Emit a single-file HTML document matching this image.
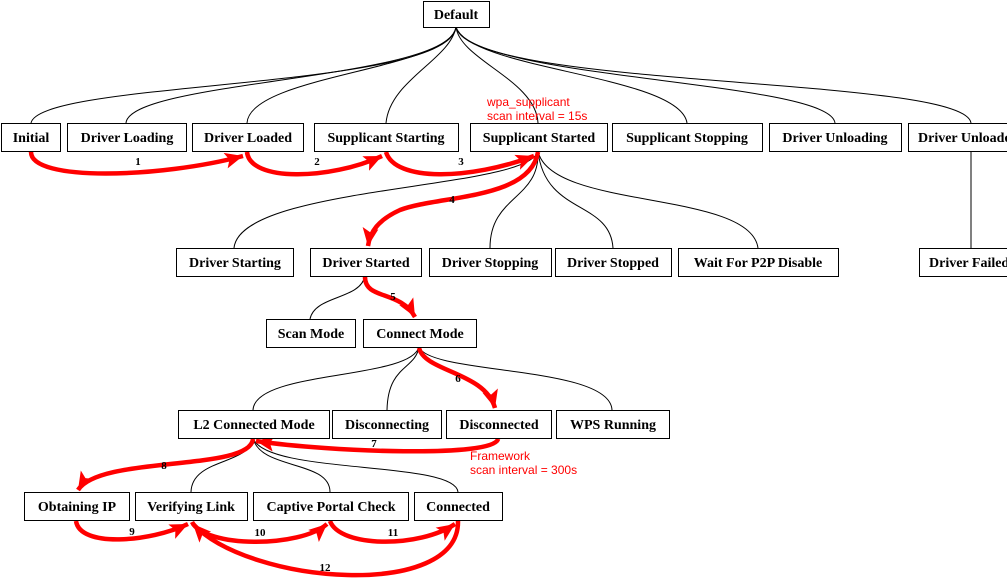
<!DOCTYPE html>
<html><head><meta charset="utf-8"><style>
html,body{margin:0;padding:0;background:#fff;width:1007px;height:582px;overflow:hidden}
svg text{font-family:"Liberation Serif",serif;font-weight:bold;font-size:14px}
</style></head><body>
<svg width="1007" height="582" xmlns="http://www.w3.org/2000/svg">
<defs>
<marker id="a" markerUnits="userSpaceOnUse" markerWidth="20" markerHeight="18" refX="18" refY="8" orient="auto">
<path d="M0,0 L18,8 L0,16 L4,8 Z" fill="#f00"/>
</marker>
</defs>
<g fill="none" stroke="#000" stroke-width="1">
<path d="M456,27 C450,90 40,80 31,123"/>
<path d="M456,27 C450,80 130,80 126,123"/>
<path d="M456,27 C450,70 250,75 247,123"/>
<path d="M456,27 C450,60 390,80 386,123"/>
<path d="M456,27 C460,60 536,80 538,123"/>
<path d="M456,27 C470,70 680,75 687,123"/>
<path d="M456,27 C470,80 830,80 835,123"/>
<path d="M456,27 C470,90 965,75 971,123"/>
<path d="M971,151 L971,248"/>
<path d="M538,151 C530,190 240,185 234,248"/>
<path d="M538,151 C540,200 490,195 490,248"/>
<path d="M538,151 C545,215 610,200 613,248"/>
<path d="M538,151 C550,210 750,190 758,248"/>
<path d="M365,276 C360,300 315,295 310,319"/>
<path d="M419,347 C410,380 255,370 253,410"/>
<path d="M419,347 C415,370 388,365 387,410"/>
<path d="M419,347 C430,375 610,365 612,410"/>
<path d="M253,438 C250,465 192,458 191,492"/>
<path d="M253,438 C260,470 330,460 330,492"/>
<path d="M253,438 C265,475 455,460 458,492"/>
</g>
<g fill="none" stroke="#f00" stroke-width="4.5">
<path d="M31,152 C31,182 160,178 243,156" marker-end="url(#a)"/>
<path d="M247,152 C250,182 330,180 382,156" marker-end="url(#a)"/>
<path d="M386,152 C395,182 470,180 534,156" marker-end="url(#a)"/>
<path d="M538,152 C530,200 440,195 400,210 C378,220 370,232 368,246" marker-end="url(#a)"/>
<path d="M365,277 C365,300 400,290 415,317" marker-end="url(#a)"/>
<path d="M419,348 C425,372 485,372 495,408" marker-end="url(#a)"/>
<path d="M498,439 C495,458 330,452 256,441" marker-end="url(#a)"/>
<path d="M253,439 C250,472 100,455 78,490" marker-end="url(#a)"/>
<path d="M76,521 C80,548 150,542 188,524" marker-end="url(#a)"/>
<path d="M192,522 C205,548 300,548 327,524" marker-end="url(#a)"/>
<path d="M330,521 C340,548 420,548 455,524" marker-end="url(#a)"/>
<path d="M458,521 C460,600 250,585 193,524" marker-end="url(#a)"/>
</g>
<g fill="#fff" stroke="#000" stroke-width="1">
<rect x="423.5" y="1.5" width="66" height="26"/>
<rect x="1.5" y="123.5" width="59" height="28"/>
<rect x="67.5" y="123.5" width="119" height="28"/>
<rect x="192.5" y="123.5" width="111" height="28"/>
<rect x="314.5" y="123.5" width="144" height="28"/>
<rect x="470.5" y="123.5" width="137" height="28"/>
<rect x="612.5" y="123.5" width="150" height="28"/>
<rect x="769.5" y="123.5" width="132" height="28"/>
<rect x="908.5" y="123.5" width="110" height="28"/>
<rect x="176.5" y="248.5" width="117" height="28"/>
<rect x="310.5" y="248.5" width="111" height="28"/>
<rect x="429.5" y="248.5" width="122" height="28"/>
<rect x="555.5" y="248.5" width="116" height="28"/>
<rect x="678.5" y="248.5" width="160" height="28"/>
<rect x="919.5" y="248.5" width="100" height="28"/>
<rect x="266.5" y="319.5" width="89" height="28"/>
<rect x="363.5" y="319.5" width="113" height="28"/>
<rect x="178.5" y="410.5" width="151" height="28"/>
<rect x="332.5" y="410.5" width="109" height="28"/>
<rect x="446.5" y="410.5" width="105" height="28"/>
<rect x="556.5" y="410.5" width="113" height="28"/>
<rect x="24.5" y="492.5" width="105" height="28"/>
<rect x="135.5" y="492.5" width="112" height="28"/>
<rect x="253.5" y="492.5" width="155" height="28"/>
<rect x="414.5" y="492.5" width="88" height="28"/>
</g>
<g fill="#000" text-anchor="middle">
<text x="456" y="19">Default</text>
<text x="31" y="142">Initial</text>
<text x="127" y="142">Driver Loading</text>
<text x="248" y="142">Driver Loaded</text>
<text x="386" y="142">Supplicant Starting</text>
<text x="539" y="142">Supplicant Started</text>
<text x="687" y="142">Supplicant Stopping</text>
<text x="835" y="142">Driver Unloading</text>
<text x="918" y="142" text-anchor="start">Driver Unloaded</text>
<text x="235" y="267">Driver Starting</text>
<text x="366" y="267">Driver Started</text>
<text x="490" y="267">Driver Stopping</text>
<text x="613" y="267">Driver Stopped</text>
<text x="758" y="267">Wait For P2P Disable</text>
<text x="929" y="267" text-anchor="start">Driver Failed</text>
<text x="311" y="338">Scan Mode</text>
<text x="420" y="338">Connect Mode</text>
<text x="254" y="429">L2 Connected Mode</text>
<text x="387" y="429">Disconnecting</text>
<text x="499" y="429">Disconnected</text>
<text x="613" y="429">WPS Running</text>
<text x="77" y="511">Obtaining IP</text>
<text x="191" y="511">Verifying Link</text>
<text x="331" y="511">Captive Portal Check</text>
<text x="458" y="511">Connected</text>
</g>
<g fill="#000" text-anchor="middle">
<text x="138" y="165" style="font-size:11px">1</text>
<text x="317" y="165" style="font-size:11px">2</text>
<text x="461" y="165" style="font-size:11px">3</text>
<text x="452" y="203" style="font-size:11px">4</text>
<text x="393" y="300" style="font-size:11px">5</text>
<text x="458" y="382" style="font-size:11px">6</text>
<text x="374" y="447" style="font-size:11px">7</text>
<text x="164" y="469" style="font-size:11px">8</text>
<text x="132" y="535" style="font-size:11px">9</text>
<text x="260" y="536" style="font-size:11px">10</text>
<text x="393" y="536" style="font-size:11px">11</text>
<text x="325" y="571" style="font-size:11px">12</text>
</g>
<g fill="#f00">
<text x="487" y="106" style="font-family:'Liberation Sans',sans-serif;font-weight:normal;font-size:12px">wpa_supplicant</text>
<text x="487" y="120" style="font-family:'Liberation Sans',sans-serif;font-weight:normal;font-size:12px">scan interval = 15s</text>
<text x="470" y="460" style="font-family:'Liberation Sans',sans-serif;font-weight:normal;font-size:12px">Framework</text>
<text x="470" y="474" style="font-family:'Liberation Sans',sans-serif;font-weight:normal;font-size:12px">scan interval = 300s</text>
</g>
</svg>
</body></html>
